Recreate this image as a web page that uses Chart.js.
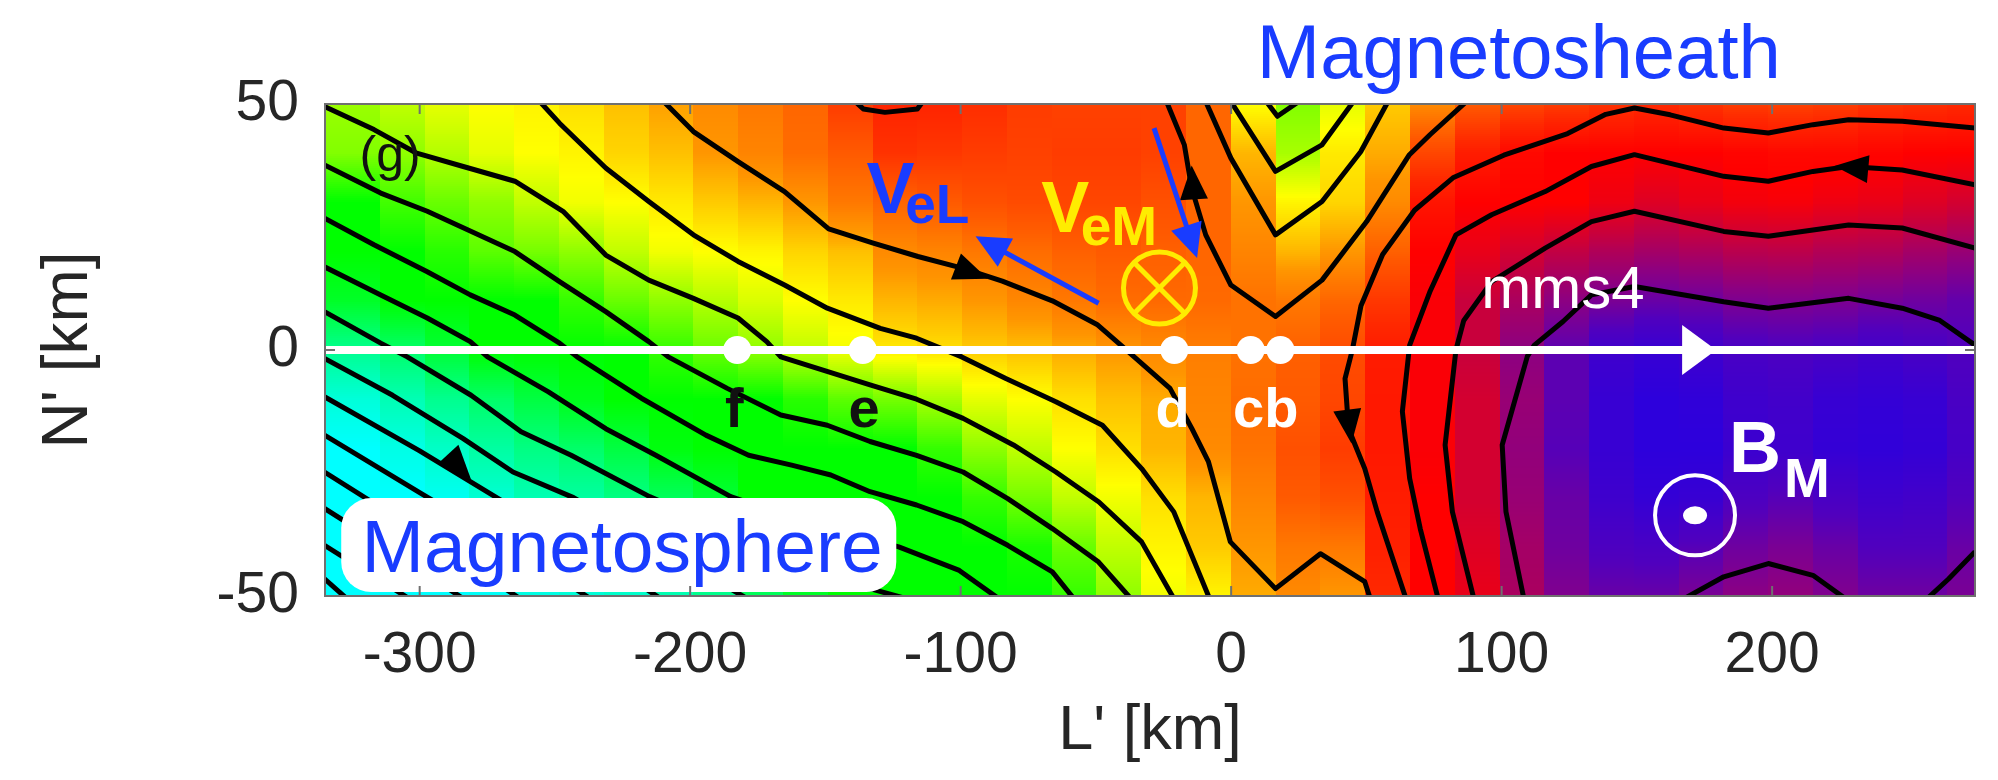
<!DOCTYPE html>
<html lang="en">
<head>
<meta charset="UTF-8">
<title>B_M map, L'-N' plane</title>
<script src="https://cdn.jsdelivr.net/npm/chart.js@4.4.1/dist/chart.umd.min.js"></script>
<style>
  html, body { margin: 0; padding: 0; background: #fff; }
  #wrap { width: 1998px; height: 780px; }
</style>
</head>
<body>
<div id="wrap"><canvas id="bmChart" width="1998" height="780"></canvas></div>
<script>
const FONT = '"Liberation Sans", Arial, Helvetica, sans-serif';
const BLUE = 'rgb(25,60,255)';
const YELLOW = 'rgb(255,236,0)';

// axis ticks
const xTicks = [-300, -200, -100, 0, 100, 200];
const yTicks = [-50, 0, 50];

// left edge of each L' column of the colour map (km)
const lCols = [-331.1, -314.5, -298.0, -281.4, -264.9, -248.3, -231.7, -215.2, -198.6, -182.1,
  -165.5, -148.9, -132.4, -115.8, -99.3, -82.7, -66.2, -49.6, -33.0, -16.5,
  0.0, 16.6, 33.1, 49.7, 66.3, 82.8, 99.4, 115.9, 132.5, 149.1,
  165.6, 182.2, 198.7, 215.3, 231.9, 248.4, 265.0];
// N' levels of the rows below (km)
const nRows = [50, 40, 30, 20, 10, 0, -10, -20, -30, -40, -50];
// colour level (0 = cyan ... 12 = violet), one row per N' level, one value per column
const bmRows = [
  [3.2, 3.5, 3.8, 4.0, 4.1, 4.3, 4.6, 4.9, 5.2, 5.5, 5.8, 6.6, 7.1, 7.1, 6.9, 6.6, 6.5, 6.5, 6.5, 5.8, 4.0, 3.0, 3.8, 4.5, 5.2, 6.0, 6.4, 6.6, 6.8, 7.0, 6.8, 6.6, 6.5, 6.6, 6.8, 6.9, 7.0],
  [3.0, 3.1, 3.4, 3.8, 4.0, 4.1, 4.4, 4.6, 5.0, 5.3, 5.7, 6.0, 6.8, 6.7, 6.6, 6.5, 6.6, 6.6, 6.5, 5.8, 4.7, 3.3, 4.2, 4.8, 6.4, 7.3, 7.8, 8.0, 8.0, 8.0, 8.0, 7.9, 7.8, 7.8, 7.9, 8.0, 8.0],
  [2.0, 2.5, 2.8, 3.1, 3.5, 3.9, 4.0, 4.2, 4.5, 4.7, 5.0, 5.5, 5.8, 6.0, 6.2, 6.3, 6.4, 6.4, 6.2, 5.8, 5.0, 4.1, 4.4, 5.2, 7.5, 8.0, 8.0, 8.0, 8.3, 8.6, 8.4, 8.2, 8.15, 8.3, 8.4, 8.6, 8.8],
  [2.0, 2.0, 2.3, 2.7, 2.9, 3.1, 3.5, 3.9, 4.0, 4.1, 4.4, 4.6, 5.2, 5.3, 5.5, 5.7, 5.9, 6.0, 5.9, 5.8, 5.3, 4.7, 5.0, 5.9, 8.0, 8.4, 8.8, 9.1, 9.4, 9.6, 9.45, 9.25, 9.2, 9.35, 9.4, 9.6, 9.8],
  [1.7, 2.0, 2.0, 2.0, 2.0, 2.4, 2.8, 3.1, 3.4, 3.7, 4.0, 4.2, 4.7, 4.8, 5.0, 5.25, 5.5, 5.7, 5.75, 5.75, 5.6, 5.5, 5.8, 6.7, 8.1, 9.0, 9.5, 10.0, 10.3, 10.6, 10.5, 10.25, 10.2, 10.25, 10.4, 10.5, 10.7],
  [0.9, 1.2, 1.6, 2.0, 2.0, 2.0, 2.0, 2.4, 2.8, 3.1, 3.5, 3.9, 4.2, 4.3, 4.5, 4.6, 4.8, 5.0, 5.2, 5.4, 5.6, 5.9, 6.3, 7.3, 8.1, 9.0, 10.0, 10.8, 11.5, 11.7, 11.5, 11.2, 11.1, 11.2, 11.4, 11.2, 11.0],
  [0.3, 0.6, 0.9, 1.2, 1.5, 1.8, 2.0, 2.0, 2.0, 2.0, 2.3, 2.7, 2.9, 3.3, 3.8, 4.0, 4.3, 4.6, 4.8, 5.3, 5.7, 6.0, 6.4, 7.4, 8.1, 8.8, 9.8, 10.8, 11.7, 12.0, 11.9, 11.5, 11.4, 11.7, 11.8, 11.7, 11.2],
  [0.0, 0.2, 0.45, 0.75, 1.0, 1.2, 1.5, 1.9, 2.0, 2.0, 2.0, 2.0, 2.0, 2.4, 3.1, 3.5, 4.0, 4.3, 4.7, 5.2, 5.6, 6.2, 6.6, 7.4, 8.1, 8.8, 9.9, 10.9, 11.7, 12.0, 12.0, 11.6, 11.5, 11.8, 11.9, 11.8, 11.3],
  [0.0, 0.0, 0.1, 0.35, 0.6, 0.75, 1.0, 1.3, 1.6, 2.0, 2.0, 2.0, 2.0, 2.0, 2.4, 2.9, 3.5, 3.9, 4.3, 4.7, 5.3, 6.0, 6.2, 7.3, 8.0, 8.8, 9.8, 10.6, 11.5, 11.8, 11.7, 11.1, 10.9, 11.2, 11.5, 11.4, 11.0],
  [0.0, 0.0, 0.0, 0.15, 0.4, 0.5, 0.7, 1.0, 1.3, 1.7, 2.0, 2.0, 2.0, 2.0, 2.0, 2.2, 2.8, 3.5, 4.1, 4.5, 5.0, 5.5, 5.5, 7.2, 8.0, 8.6, 9.6, 10.5, 11.1, 11.2, 10.9, 10.5, 10.3, 10.6, 11.0, 11.0, 10.6],
  [0.0, 0.0, 0.0, 0.05, 0.2, 0.3, 0.4, 0.6, 0.9, 1.3, 1.7, 2.0, 2.0, 2.0, 2.0, 2.0, 2.4, 3.1, 3.9, 4.1, 4.8, 5.2, 5.0, 7.0, 8.0, 8.4, 9.5, 10.2, 10.6, 10.6, 10.3, 10.0, 9.9, 10.2, 10.5, 10.5, 10.3]
];
// colour map: level -> rgb
const cmapStops = [
  [0, 0, 255, 255], [1, 0, 255, 130], [2, 0, 255, 0], [3, 130, 255, 0], [4, 255, 255, 0],
  [5, 255, 150, 0], [6, 255, 90, 0], [7, 255, 40, 0], [8, 255, 0, 0], [9, 200, 0, 60],
  [10, 140, 0, 130], [11, 80, 0, 190], [12, 45, 0, 220]
];

// in-plane field lines [L', N'] (km)
const mspLines = [
  [[-335.2,49.5],[-316.9,44.8],[-301.1,40.0],[-283.9,37.3],[-264.8,34.3],[-247,28.2],[-231.2,19.3],[-215.3,14.2],[-198.8,10.5],[-182.3,6.5],[-171.7,1.7],[-166.5,-1.4],[-133.5,-7.1],[-116.3,-10.0],[-99.1,-13.9],[-80.5,-19.3],[-64.8,-24.8],[-48.9,-30.9],[-33.1,-39.0],[-21.2,-50.5]],
  [[-335.2,37.6],[-314.4,31.9],[-297.2,28.2],[-264.8,20.0],[-248.3,13.9],[-231.2,7.8],[-215.3,1.7],[-208.1,-1.4],[-186.3,-7.8],[-166.5,-13.2],[-149.3,-15.3],[-133.5,-18.6],[-116.3,-21.4],[-99.1,-24.8],[-82.6,-30.2],[-66.1,-36.3],[-49,-43.1],[-37.1,-50.5]],
  [[-335.2,26.8],[-316.9,21.4],[-297.2,15.9],[-281.3,11.2],[-264.8,7.1],[-248.3,1.4],[-241.8,-1.4],[-218,-9.8],[-194.2,-17.3],[-178.4,-21.4],[-162.5,-23.4],[-148,-25.4],[-133.5,-28.8],[-116.3,-31.5],[-99.1,-34.9],[-82.6,-39.7],[-66.1,-45.1],[-58.2,-50.5]],
  [[-335.2,16.9],[-314.4,11.2],[-297.2,6.5],[-281.3,1.7],[-274.9,-1.4],[-252.4,-8.5],[-231.2,-16.0],[-212.7,-21.4],[-185,-29.8],[-160,-34.5],[-140,-37.5],[-122.9,-40.0],[-100.5,-44.8],[-86,-50.5]],
  [[-335.2,7.8],[-314.4,1.4],[-304.6,-1.4],[-281,-9.2],[-262.5,-16.6],[-244,-21.4],[-215,-29.8],[-185,-37],[-160,-42],[-133.5,-48.5],[-120.3,-50.5]],
  [[-335.2,-1.7],[-310,-9.2],[-283.9,-18.0],[-265.5,-24.8],[-243.1,-30],[-179,-50.5]],
  [[-335.2,-9.5],[-300,-20.5],[-270,-30.5],[-240,-40],[-211,-50.5]],
  [[-335.2,-17.3],[-300,-29],[-265,-40.5],[-237,-50.5]],
  [[-335.2,-24.8],[-300,-37],[-263,-50.5]],
  [[-335.2,-32.2],[-310,-41],[-284,-50.5]],
  [[-335.2,-39.7],[-304,-50.5]],
  [[-335.2,-46.5],[-327,-50.5]],
  [[-255.6,50.5],[-248.3,46.1],[-231.2,37.0],[-215.3,30.2],[-198.8,23.4],[-182.3,18.0],[-165.1,13.2],[-149.3,8.5],[-129.7,4.4],[-116.3,2.4],[-99.6,-1.4],[-83.3,-5.8],[-64.8,-10.5],[-47.6,-15.3],[-33.1,-24.1],[-21.2,-32.9],[-8.0,-50.5]],
  [[-209.8,50.5],[-198.8,44.4],[-182.3,38.3],[-165.1,32.2],[-148.8,24.6],[-132.3,21.7],[-115.8,19.0],[-99.1,16.6],[-84.6,14.0],[-66.1,10.0],[-49.6,5.2],[-41,1.1],[-22.6,-7.8],[-14.6,-15.9],[-8.4,-22.7],[-0.3,-39],[16.4,-48.5],[33,-41.4],[49.4,-47.1],[51.4,-50.5]],
  [[-139,50.5],[-136,49],[-128,48.3],[-116,49],[-114,50.5]]
];
const xlineLines = [
  [[-23.9,50.5],[-17.3,41.7],[-14.6,32.9],[-9.4,23.4],[-0.1,13.2],[16.4,6.8],[33.6,14.2],[50.1,26.1],[65.9,39.7],[73.6,43.8],[87,50.5]],
  [[-9.4,50.5],[-0.1,39.0],[16.4,23.4],[33.6,30.2],[47.9,40.3],[58.0,50.5]],
  [[-0.1,50.5],[16.4,36.3],[33.6,41.7],[45.2,50.5]],
  [[13,50.5],[17.1,47.5],[25,50.5]]
];
const mshLines = [
  [[275,45.1],[248.1,46.5],[228.3,46.8],[215.1,45.8],[198.6,44.1],[182.1,45.1],[162.3,47.8],[149.1,49.2],[138.5,47.9],[124.4,44],[100.8,39.6],[82,35],[67.8,28.4],[56,19.4],[48,9],[44.8,0],[42.1,-5.8],[43.4,-16],[49.4,-24.1],[54,-32.9],[64.6,-50.5]],
  [[275,33.6],[248.1,36.6],[228.3,37.3],[215.1,36.3],[198.6,34.3],[182.1,35.3],[149.1,39.7],[133.2,37.3],[116.1,32.2],[96.3,27.5],[83.1,23.4],[73.6,12],[66,1],[63.3,-12.5],[66,-26.1],[69.9,-36.3],[76.5,-50.5]],
  [[275,20.7],[248.1,24.8],[228.3,25.4],[198.6,23.1],[182.1,24.1],[149.1,28.2],[133.2,26.1],[116.1,20.7],[96.3,13.9],[86,6],[83.1,0],[79.1,-19.3],[81.8,-32.9],[89.7,-50.5]],
  [[275,1.0],[262,6],[248.1,8.5],[228.3,10.5],[198.6,8.5],[182.1,9.8],[149.1,12.9],[133.2,11.2],[122.7,5.8],[112.1,1.0],[109.5,-1.3],[100.2,-19.3],[101.6,-32.9],[108.2,-50.5]],
  [[167.6,-50.5],[182.1,-46.1],[198.6,-43.4],[215.1,-45.8],[227,-50.5]],
  [[257.4,-50.5],[265.3,-46.5],[275,-41.0]]
];
// field direction marks: [fromL, fromN, tipL, tipN]
const fieldArrows = [[-100, 16.6, -90, 14.5], [-13.8, 31, -14.6, 37.5], [43, -12.5, 44.5, -19], [233, 36.9, 223, 37.4], [-289, -21.5, -281, -26.3]];

// spacecraft path and probe times
const mmsPath = [[-335, 0], [275, 0]];
const probeL = [-182.6, -136.2, -21.0, 7.2, 18.2];
const probeTags = [['f', -183.7, '#111'], ['e', -135.7, '#111'], ['d', -21.6, '#fff'], ['cb', 12.8, '#fff']];

// electron velocity arrows: [fromL, fromN, tipL, tipN]
const velArrows = [[-49, 9.5, -94.5, 23.1], [-28.5, 45.1, -12.6, 18.7]];

function interpCol(n, col) {
  if (n >= nRows[0]) return col[0];
  for (let i = 0; i < nRows.length - 1; i++) {
    if (n <= nRows[i] && n >= nRows[i + 1]) {
      const t = (nRows[i] - n) / (nRows[i] - nRows[i + 1]);
      return col[i] + t * (col[i + 1] - col[i]);
    }
  }
  return col[col.length - 1];
}

function bmColor(v) {
  if (v <= cmapStops[0][0]) return `rgb(${cmapStops[0][1]},${cmapStops[0][2]},${cmapStops[0][3]})`;
  for (let i = 0; i < cmapStops.length - 1; i++) {
    const a = cmapStops[i], b = cmapStops[i + 1];
    if (v <= b[0]) {
      const t = (v - a[0]) / (b[0] - a[0]);
      return `rgb(${Math.round(a[1] + t * (b[1] - a[1]))},${Math.round(a[2] + t * (b[2] - a[2]))},${Math.round(a[3] + t * (b[3] - a[3]))})`;
    }
  }
  const z = cmapStops[cmapStops.length - 1];
  return `rgb(${z[1]},${z[2]},${z[3]})`;
}

function triangle(ctx, fx, fy, tx, ty, len, half, color) {
  const a = Math.atan2(ty - fy, tx - fx);
  const bx = tx - len * Math.cos(a), by = ty - len * Math.sin(a);
  ctx.fillStyle = color;
  ctx.beginPath();
  ctx.moveTo(tx, ty);
  ctx.lineTo(bx - half * Math.sin(a), by + half * Math.cos(a));
  ctx.lineTo(bx + half * Math.sin(a), by - half * Math.cos(a));
  ctx.closePath();
  ctx.fill();
}

// colour map drawn as flat L' columns, smooth along N'
const heatmapPlugin = {
  id: 'heatmap',
  beforeDatasetsDraw(chart) {
    const {ctx, chartArea: a, scales: {x, y}} = chart;
    ctx.save();
    ctx.beginPath();
    ctx.rect(a.left, a.top, a.right - a.left, a.bottom - a.top);
    ctx.clip();
    for (let k = 0; k < lCols.length; k++) {
      const x0 = Math.floor(x.getPixelForValue(k === 0 ? x.min : lCols[k]));
      const x1 = Math.ceil(x.getPixelForValue(k === lCols.length - 1 ? x.max : lCols[k + 1]));
      const col = bmRows.map(r => r[k]);
      for (let py = Math.floor(a.top); py < a.bottom; py += 2) {
        ctx.fillStyle = bmColor(interpCol(y.getValueForPixel(py + 1), col));
        ctx.fillRect(x0, py, x1 - x0, 2);
      }
    }
    ctx.restore();
  }
};

const overlayPlugin = {
  id: 'overlay',
  afterDatasetsDraw(chart) {
    const {ctx, scales: {x, y}} = chart;
    const X = v => x.getPixelForValue(v), Y = v => y.getPixelForValue(v);
    ctx.save();

    fieldArrows.forEach(([l0, n0, l1, n1]) => triangle(ctx, X(l0), Y(n0), X(l1), Y(n1), 34, 14, '#000'));

    // direction of the spacecraft path
    triangle(ctx, X(160), Y(0), X(179.3), Y(0), 34, 25, '#fff');

    // electron flow arrows
    ctx.strokeStyle = BLUE;
    ctx.lineWidth = 5;
    velArrows.forEach(([l0, n0, l1, n1]) => {
      const fx = X(l0), fy = Y(n0), tx = X(l1), ty = Y(n1);
      const a = Math.atan2(ty - fy, tx - fx);
      ctx.beginPath();
      ctx.moveTo(fx, fy);
      ctx.lineTo(tx - 28 * Math.cos(a), ty - 28 * Math.sin(a));
      ctx.stroke();
      triangle(ctx, fx, fy, tx, ty, 34, 16, BLUE);
    });

    // V_eM into the page
    const cx = X(-26.5), cy = Y(12.6), r = 36;
    ctx.strokeStyle = YELLOW;
    ctx.lineWidth = 5;
    ctx.beginPath();
    ctx.arc(cx, cy, r, 0, 2 * Math.PI);
    ctx.stroke();
    const d = r * Math.SQRT1_2;
    ctx.beginPath();
    ctx.moveTo(cx - d, cy - d); ctx.lineTo(cx + d, cy + d);
    ctx.moveTo(cx + d, cy - d); ctx.lineTo(cx - d, cy + d);
    ctx.stroke();

    // B_M out of the page
    const bx = X(171.5), by = Y(-33.6);
    ctx.strokeStyle = '#fff';
    ctx.lineWidth = 4;
    ctx.beginPath();
    ctx.arc(bx, by, 40, 0, 2 * Math.PI);
    ctx.stroke();
    ctx.fillStyle = '#fff';
    ctx.beginPath();
    ctx.ellipse(bx, by, 12, 9, 0, 0, 2 * Math.PI);
    ctx.fill();

    // Magnetosphere label box
    const l = X(-329), rgt = X(-123.8), t = Y(-30.1), b = Y(-49.2), rr = 30;
    ctx.fillStyle = '#fff';
    ctx.beginPath();
    ctx.moveTo(l + rr, t);
    ctx.arcTo(rgt, t, rgt, b, rr);
    ctx.arcTo(rgt, b, l, b, rr);
    ctx.arcTo(l, b, l, t, rr);
    ctx.arcTo(l, t, rgt, t, rr);
    ctx.closePath();
    ctx.fill();

    const text = (s, l0, n0, font, color, align) => {
      ctx.font = font;
      ctx.fillStyle = color;
      ctx.textAlign = align || 'left';
      ctx.textBaseline = 'alphabetic';
      ctx.fillText(s, X(l0), Y(n0));
    };
    text('Magnetosphere', -321.5, -45.1, `75px ${FONT}`, BLUE);
    text('Magnetosheath', 9.5, 55.35, `76px ${FONT}`, BLUE);
    text('(g)', -322.2, 36.4, `50px ${FONT}`, '#111');
    text('V', -134.8, 27.9, `bold 72px ${FONT}`, BLUE);
    text('eL', -120.5, 25.8, `bold 55px ${FONT}`, BLUE);
    text('V', -70.2, 24.0, `bold 72px ${FONT}`, YELLOW);
    text('eM', -55.6, 21.4, `bold 55px ${FONT}`, YELLOW);
    text('mms4', 92.5, 8.5, `60px ${FONT}`, '#fff');
    text('B', 184.1, -24.8, `bold 72px ${FONT}`, '#fff');
    text('M', 204.4, -29.9, `bold 55px ${FONT}`, '#fff');
    probeTags.forEach(([s, l0, c]) => text(s, l0, -15.6, `bold 56px ${FONT}`, c, 'center'));
    ctx.restore();
  }
};

// axes box with inward ticks
const framePlugin = {
  id: 'frame',
  afterDraw(chart) {
    const {ctx, chartArea: a, scales: {x, y}} = chart;
    ctx.save();
    ctx.strokeStyle = '#707070';
    ctx.lineWidth = 2;
    ctx.strokeRect(a.left, a.top, a.right - a.left, a.bottom - a.top);
    ctx.beginPath();
    xTicks.forEach(v => {
      const p = x.getPixelForValue(v);
      ctx.moveTo(p, a.bottom); ctx.lineTo(p, a.bottom - 10);
      ctx.moveTo(p, a.top); ctx.lineTo(p, a.top + 10);
    });
    yTicks.forEach(v => {
      const p = y.getPixelForValue(v);
      ctx.moveTo(a.left, p); ctx.lineTo(a.left + 10, p);
      ctx.moveTo(a.right, p); ctx.lineTo(a.right - 10, p);
    });
    ctx.stroke();
    ctx.restore();
  }
};

const asLine = pts => ({
  data: pts.map(([l, n]) => ({x: l, y: n})),
  showLine: true,
  borderColor: '#000',
  borderWidth: 5,
  borderJoinStyle: 'round',
  pointRadius: 0,
  tension: 0,
  clip: 0
});

const datasets = [
  {
    data: probeL.map(l => ({x: l, y: 0})),
    pointRadius: 14,
    pointBackgroundColor: '#fff',
    pointBorderWidth: 0,
    showLine: false
  },
  {
    data: mmsPath.map(([l, n]) => ({x: l, y: n})),
    showLine: true,
    borderColor: '#fff',
    borderWidth: 8,
    pointRadius: 0,
    clip: 0
  },
  ...mspLines.map(asLine),
  ...xlineLines.map(asLine),
  ...mshLines.map(asLine)
];

new Chart(document.getElementById('bmChart'), {
  type: 'scatter',
  data: {datasets},
  options: {
    responsive: false,
    devicePixelRatio: 1,
    animation: false,
    events: [],
    layout: {padding: {top: 104, right: 23, left: 0, bottom: 0}},
    plugins: {legend: {display: false}, tooltip: {enabled: false}},
    scales: {
      x: {
        type: 'linear',
        min: -335,
        max: 275,
        afterBuildTicks: s => { s.ticks = xTicks.map(v => ({value: v})); },
        afterFit: s => { s.height = 184; },
        grid: {display: false, drawTicks: false},
        border: {display: false},
        ticks: {color: '#262626', font: {family: FONT, size: 57}, padding: 26, maxRotation: 0, autoSkip: false,
                callback: v => String(v)},
        title: {display: true, text: "L' [km]", color: '#262626', font: {family: FONT, size: 63, lineHeight: 1},
                padding: {top: 0, bottom: 17}}
      },
      y: {
        type: 'linear',
        min: -50,
        max: 50,
        afterBuildTicks: s => { s.ticks = yTicks.map(v => ({value: v})); },
        afterFit: s => { s.width = 325; },
        grid: {display: false, drawTicks: false},
        border: {display: false},
        ticks: {color: '#262626', font: {family: FONT, size: 57}, padding: 26, callback: v => String(v)},
        title: {display: true, text: "N' [km]", color: '#262626', font: {family: FONT, size: 64, lineHeight: 1},
                padding: {top: 37, bottom: 0}}
      }
    }
  },
  plugins: [heatmapPlugin, overlayPlugin, framePlugin]
});
</script>
</body>
</html>
